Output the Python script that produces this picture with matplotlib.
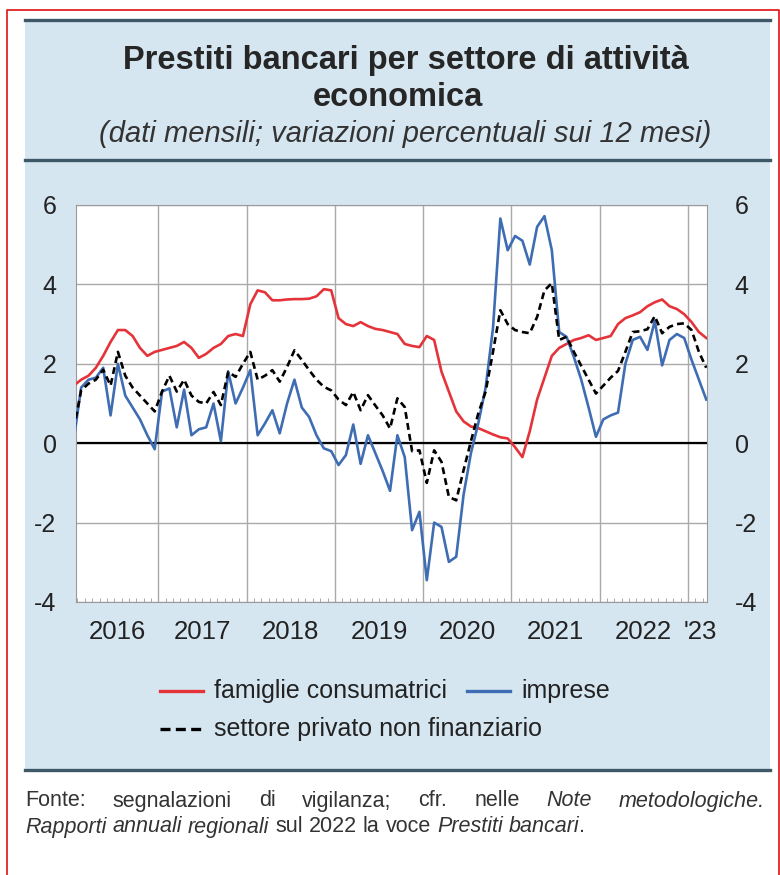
import matplotlib
matplotlib.use("Agg")
import matplotlib.pyplot as plt
import numpy as np
from matplotlib.lines import Line2D
from matplotlib.patches import Rectangle

plt.rcParams['font.family'] = ['Liberation Sans', 'DejaVu Sans']
plt.rcParams['axes.unicode_minus'] = False

# monthly data, Jan 2016 - Mar 2023 (month index 0..86)
famiglie = [1.45, 1.6, 1.7, 1.9, 2.2, 2.55, 2.85, 2.85, 2.7, 2.4, 2.2, 2.3,
            2.35, 2.4, 2.45, 2.55, 2.4, 2.15, 2.25, 2.4, 2.5, 2.7, 2.75, 2.7,
            3.5, 3.85, 3.8, 3.6, 3.6, 3.62, 3.63, 3.63, 3.64, 3.7, 3.88, 3.85,
            3.15, 3.0, 2.95, 3.05, 2.95, 2.88, 2.85, 2.8, 2.75, 2.5, 2.45, 2.42,
            2.7, 2.6, 1.8, 1.3, 0.8, 0.55, 0.42, 0.38, 0.3, 0.22, 0.15, 0.12,
            -0.1, -0.35, 0.3, 1.1, 1.65, 2.2, 2.4, 2.5, 2.6, 2.65, 2.72, 2.6,
            2.65, 2.7, 3.0, 3.15, 3.22, 3.3, 3.45, 3.55, 3.62, 3.45, 3.38, 3.25,
            3.05, 2.8, 2.65]
imprese = [0.1, 1.4, 1.6, 1.65, 1.9, 0.7, 2.0, 1.2, 0.9, 0.6, 0.2, -0.15,
           1.3, 1.38, 0.4, 1.35, 0.2, 0.35, 0.4, 1.0, 0.05, 1.8, 1.0, 1.4,
           1.84, 0.2, 0.5, 0.83, 0.25, 1.0, 1.6, 0.9, 0.66, 0.2, -0.13, -0.2,
           -0.55, -0.3, 0.47, -0.52, 0.2, -0.25, -0.7, -1.2, 0.2, -0.35, -2.19, -1.73,
           -3.45, -2.0, -2.11, -2.99, -2.86, -1.3, -0.25, 0.5, 1.4, 2.9, 5.66, 4.86,
           5.22, 5.1, 4.5, 5.45, 5.72, 4.86, 2.8, 2.68, 2.17, 1.6, 0.9, 0.16,
           0.6, 0.7, 0.77, 2.0, 2.6, 2.68, 2.35, 3.08, 1.96, 2.6, 2.75, 2.65,
           2.1, 1.6, 1.1]
settore = [0.35, 1.33, 1.5, 1.6, 1.85, 1.45, 2.3, 1.7, 1.4, 1.2, 1.0, 0.8,
           1.3, 1.7, 1.3, 1.6, 1.2, 1.04, 1.0, 1.29, 0.96, 1.8, 1.67, 2.0,
           2.3, 1.6, 1.7, 1.84, 1.55, 1.92, 2.34, 2.1, 1.84, 1.6, 1.42, 1.33,
           1.1, 0.96, 1.29, 0.83, 1.21, 0.95, 0.7, 0.37, 1.13, 0.91, -0.2, -0.18,
           -1.0, -0.18, -0.47, -1.35, -1.44, -0.68, 0.05, 0.75, 1.3, 2.3, 3.35, 3.0,
           2.85, 2.8, 2.77, 3.18, 3.85, 4.03, 2.6, 2.68, 2.3, 1.95, 1.6, 1.25,
           1.45, 1.65, 1.82, 2.3, 2.8, 2.82, 2.87, 3.2, 2.77, 2.93, 3.0, 3.02,
           2.85, 2.3, 1.9]
year_labels = ['2016', '2017', '2018', '2019', '2020', '2021', '2022', "'23"]
year_pos = [5.9, 17.5, 29.5, 41.5, 53.5, 65.5, 77.5, 85.2]
yticks = [-4, -2, 0, 2, 4, 6]

W, H = 780, 875
fig = plt.figure(figsize=(7.8, 8.75), dpi=100)


def fx(px):
    return px / W


def fy(py):
    return 1 - py / H


# background panel and rules
fig.add_artist(Rectangle((fx(25), fy(770)), fx(770) - fx(25), fy(20) - fy(770),
                         transform=fig.transFigure, facecolor='#d6e6f1',
                         edgecolor='none', zorder=0))
for yy in [20, 160, 770]:
    fig.add_artist(Line2D([fx(25), fx(770)], [fy(yy), fy(yy)], color='#3e5868',
                          lw=2.4, transform=fig.transFigure))
# red frame
fig.add_artist(Line2D([fx(7), fx(7), fx(779), fx(779)], [0, fy(10), fy(10), 0],
                      color='#e01010', lw=1.2, transform=fig.transFigure))

fig.text(fx(406), fy(61), 'Prestiti bancari per settore di attività', ha='center',
         va='center', fontsize=23.5, fontweight='bold', color='#262626')
fig.text(fx(398), fy(98), 'economica', ha='center', va='center', fontsize=23.5,
         fontweight='bold', color='#262626')
fig.text(fx(405), fy(134), '(dati mensili; variazioni percentuali sui 12 mesi)',
         ha='center', va='center', fontsize=21, style='italic', color='#333333')

ax = fig.add_axes([fx(76), fy(602), fx(707) - fx(76), fy(205) - fy(602)])
ax.set_facecolor('white')
x = np.arange(len(famiglie))
ax.plot(x, famiglie, color='#e4343a', lw=1.9, zorder=3)
ax.plot(x, imprese, color='#3f6db3', lw=1.9, zorder=4)
ax.plot(x, settore, color='black', lw=1.9, linestyle=(0, (2.6, 1.6)), zorder=5)
ax.axhline(0, color='black', lw=1.6, zorder=2)

ax.set_xlim(0.3, 86.1)
ax.set_ylim(-4, 6)
ax.set_yticks(yticks)
ax.set_xticks([11.5 + 12 * k for k in range(7)])
ax.set_xticklabels([])
ax.set_xticks(np.arange(0.5, 86, 1), minor=True)
ax.grid(True, axis='both', which='major', color='#a9a9a9', lw=1)
ax.tick_params(axis='x', which='major', length=0)
ax.tick_params(axis='x', which='minor', length=3, direction='in', color='#9a9a9a',
               top=False)
ax.tick_params(axis='y', length=0, labelsize=18, pad=14, labelcolor='#222222')
for s in ax.spines.values():
    s.set_color('#9a9a9a')

ax2 = ax.twinx()
ax2.set_ylim(-4, 6)
ax2.set_yticks(yticks)
ax2.tick_params(axis='y', length=0, labelsize=18, pad=20, labelcolor='#222222')
for s in ax2.spines.values():
    s.set_visible(False)

for lab, p in zip(year_labels, year_pos):
    ax.text(p, -4.76, lab, ha='center', va='center', fontsize=18.5, color='#222222')

# legend
fig.add_artist(Line2D([fx(160), fx(203)], [fy(691), fy(691)], color='#e4343a', lw=2.4,
                      transform=fig.transFigure))
fig.text(fx(214), fy(691), 'famiglie consumatrici', va='center', fontsize=18,
         color='#222222')
fig.add_artist(Line2D([fx(467), fx(510)], [fy(691), fy(691)], color='#3f6db3', lw=2.4,
                      transform=fig.transFigure))
fig.text(fx(521), fy(691), 'imprese', va='center', fontsize=18, color='#222222')
fig.add_artist(Line2D([fx(160), fx(203)], [fy(729), fy(729)], color='black', lw=2.4,
                      linestyle=(0, (3, 1.6)), transform=fig.transFigure))
fig.text(fx(214), fy(729), 'settore privato non finanziario', va='center', fontsize=18,
         color='#222222')

# footer, first line justified
renderer = fig.canvas.get_renderer()
fs = 15.5
words1 = [('Fonte:', 'normal'), ('segnalazioni', 'normal'), ('di', 'normal'),
          ('vigilanza;', 'normal'), ('cfr.', 'normal'), ('nelle', 'normal'),
          ('Note', 'italic'), ('metodologiche.', 'italic')]
arts = []
for w, st in words1:
    t = fig.text(0, fy(801), w, va='center', fontsize=fs, style=st, color='#333333')
    arts.append(t)
widths = [t.get_window_extent(renderer).width for t in arts]
gap = (765 - 25 - sum(widths)) / (len(arts) - 1)
xpos = 25
for t, wd in zip(arts, widths):
    t.set_x(fx(xpos))
    xpos += wd + gap

ta = fig.text(0, 0, 'a a', fontsize=fs)
tb = fig.text(0, 0, 'aa', fontsize=fs)
sp = ta.get_window_extent(renderer).width - tb.get_window_extent(renderer).width
ta.remove()
tb.remove()
words2 = [('Rapporti', 'italic'), ('annuali', 'italic'), ('regionali', 'italic'),
          ('sul', 'normal'), ('2022', 'normal'), ('la', 'normal'), ('voce', 'normal'),
          ('Prestiti', 'italic'), ('bancari', 'italic'), ('.', 'normal')]
xpos = 25
for i, (w, st) in enumerate(words2):
    t = fig.text(fx(xpos), fy(827), w, va='center', fontsize=fs, style=st,
                 color='#333333')
    wd = t.get_window_extent(renderer).width
    xpos += wd + (sp if i + 1 < len(words2) and words2[i + 1][0] != '.' else 0)

fig.savefig('out.png', dpi=100)
